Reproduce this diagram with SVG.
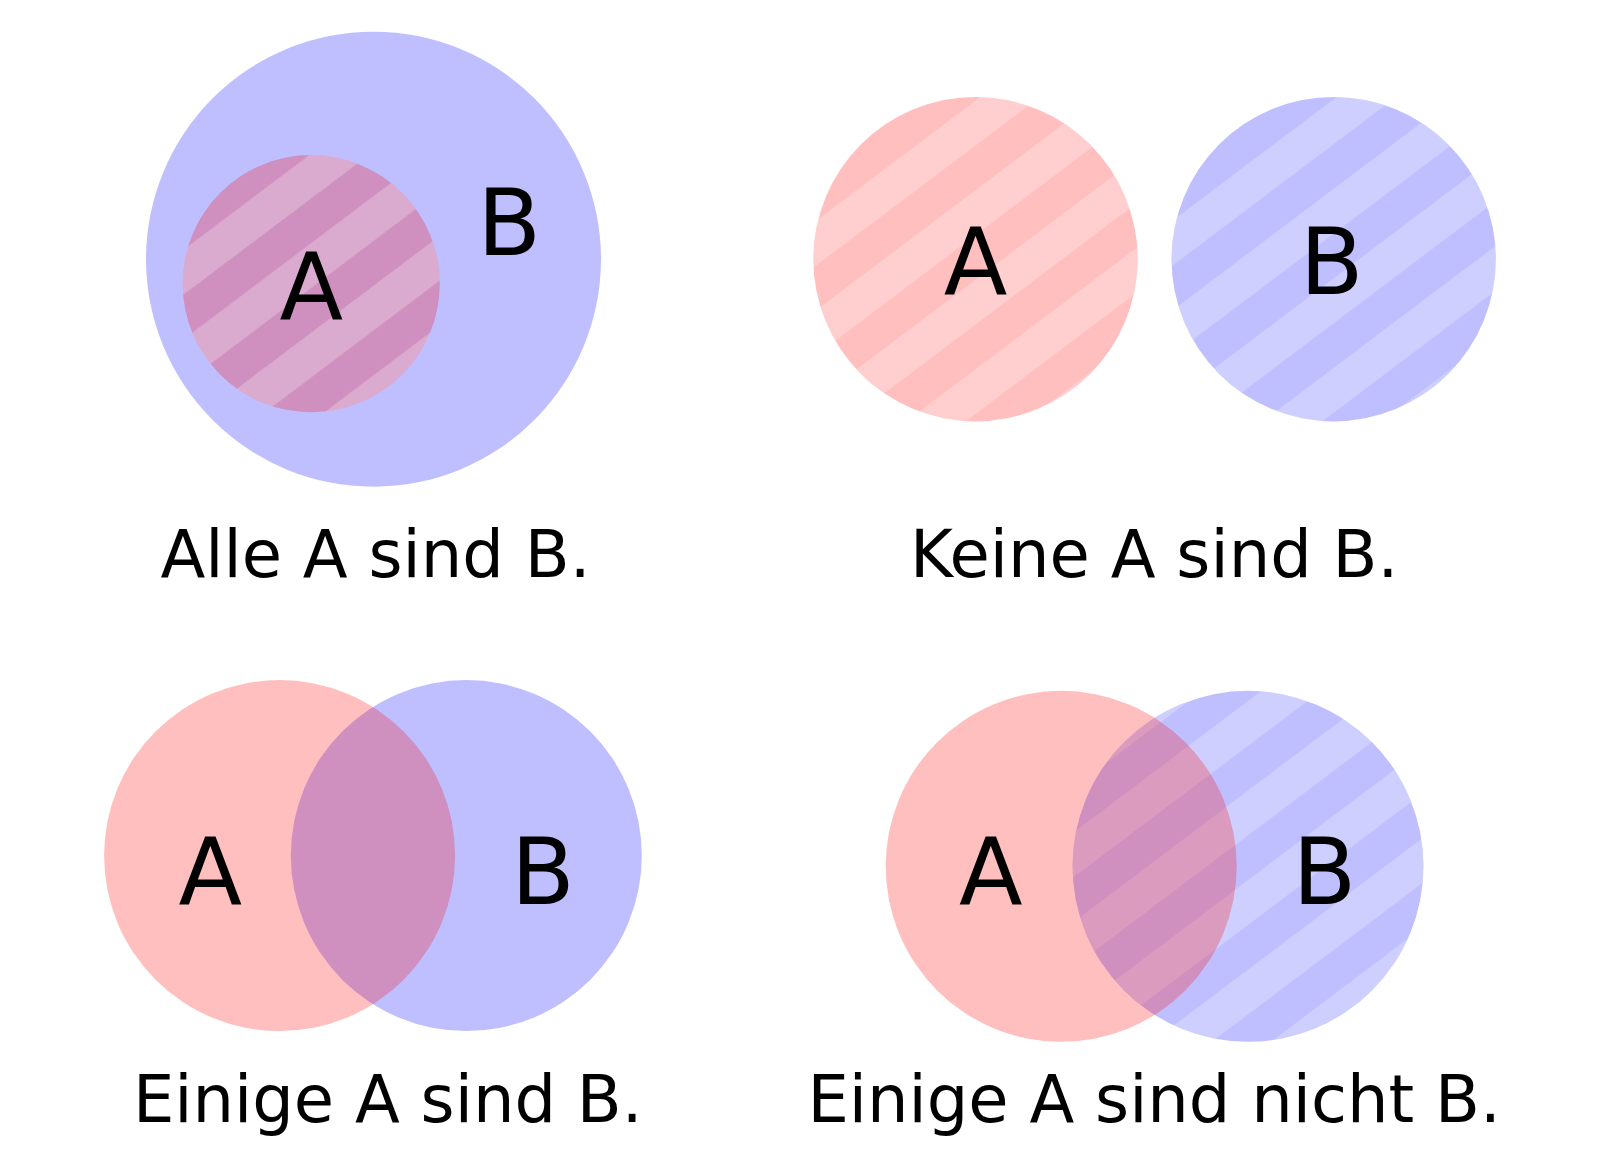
<svg xmlns="http://www.w3.org/2000/svg" width="1600" height="1167" viewBox="0 0 1600 1167">
  <style>
    .a { fill: #ff0000; fill-opacity: 0.25; }
    .b { fill: #0000ff; fill-opacity: 0.25; }
    .h { fill: url(#stripes); }
    .lbl { font-family: "DejaVu Sans", sans-serif; font-size: 93px; fill: #000; text-anchor: middle; }
    .cap { font-family: "DejaVu Sans", sans-serif; font-size: 65.5px; fill: #000; text-anchor: middle; }
  </style>
  <defs>
    <pattern id="stripes" patternUnits="userSpaceOnUse" width="71.5" height="71.5" patternTransform="rotate(-37)">
      <rect x="0" y="24" width="71.5" height="35.75" fill="#ffffff" fill-opacity="0.25"/>
    </pattern>
  </defs>
  <rect width="1600" height="1167" fill="#ffffff"/>
  <g id="connectors"/>

  <g id="alle">
    <circle class="b" cx="373.5" cy="259.2" r="227.5"/>
    <circle class="a" cx="311.2" cy="283.7" r="128.6"/>
    <circle class="h" cx="311.2" cy="283.7" r="128.6"/>
    <text class="lbl" x="311.2" y="319.4">A</text>
    <text class="lbl" x="509.2" y="255.1">B</text>
    <text class="cap" x="375.5" y="576.5">Alle A sind B.</text>
  </g>

  <g id="keine">
    <circle class="a" cx="975.5" cy="259.2" r="162.2"/>
    <circle class="h" cx="975.5" cy="259.2" r="162.2"/>
    <circle class="b" cx="1333.7" cy="259.2" r="162.2"/>
    <circle class="h" cx="1333.7" cy="259.2" r="162.2"/>
    <text class="lbl" x="975.5" y="293.9">A</text>
    <text class="lbl" x="1331.6" y="293.9">B</text>
    <text class="cap" x="1154.1" y="576.5">Keine A sind B.</text>
  </g>

  <g id="einige">
    <circle class="b" cx="466.3" cy="855.6" r="175.5"/>
    <circle class="a" cx="279.6" cy="855.6" r="175.5"/>
    <text class="lbl" x="210.2" y="904.1">A</text>
    <text class="lbl" x="542.9" y="904.1">B</text>
    <text class="cap" x="387.8" y="1122.4">Einige A sind B.</text>
  </g>

  <g id="einige-nicht">
    <circle class="b" cx="1248" cy="866.3" r="175.5"/>
    <circle class="h" cx="1248" cy="866.3" r="175.5"/>
    <circle class="a" cx="1061.2" cy="866.3" r="175.5"/>
    <text class="lbl" x="990.8" y="904.1">A</text>
    <text class="lbl" x="1324.5" y="904.1">B</text>
    <text class="cap" x="1154.1" y="1122.4">Einige A sind nicht B.</text>
  </g>
</svg>
